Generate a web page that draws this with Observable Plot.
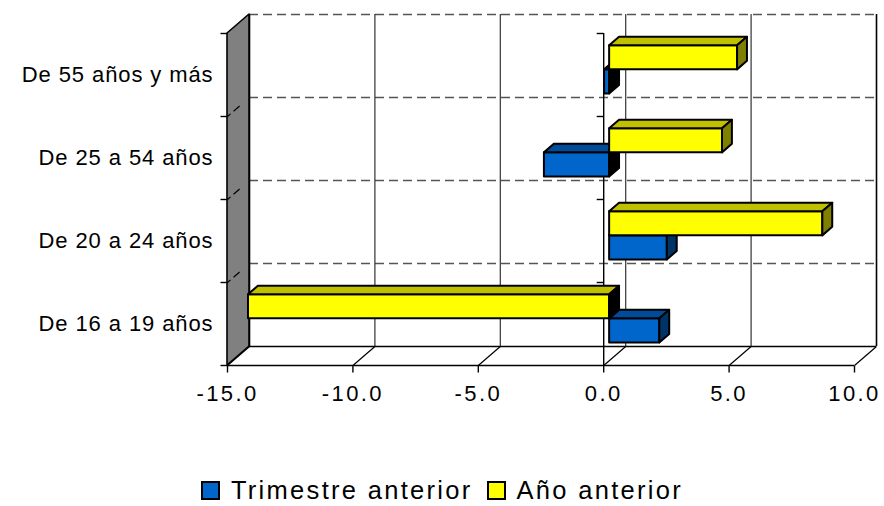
<!DOCTYPE html>
<html><head><meta charset="utf-8">
<script src="https://cdn.jsdelivr.net/npm/d3@7"></script>
<script src="https://cdn.jsdelivr.net/npm/@observablehq/plot@0.6"></script>
<style>
body{margin:0;background:#fff;font-family:"Liberation Sans",Arial,sans-serif;}
#chart{position:relative;width:884px;height:506px;overflow:hidden;}
.legend{position:absolute;left:0;top:475px;width:884px;display:flex;justify-content:center;align-items:center;font-size:25.5px;letter-spacing:2.3px;line-height:30px;color:#000;}
.sw{width:19px;height:19px;border:2.5px solid #000;box-sizing:border-box;margin-right:11px;}
.lab{margin-right:14px;}
.lab:last-child{margin-right:0;}
</style></head><body><div id="chart"></div>
<script>
// ---- data ----
const categories = ["De 16 a 19 años", "De 20 a 24 años", "De 25 a 54 años", "De 55 años y más"];
const trimestreAnterior = [2.0, 2.3, -2.6, -0.2];
const anoAnterior = [-14.4, 8.5, 4.5, 5.1];
const seriesNames = ["Trimestre anterior", "Año anterior"];
const xTicks = [-15, -10, -5, 0, 5, 10];

// ---- styles ----
const FRONT = ["#0066CC", "#FFFF00"];
const TOP = ["#004C99", "#C0C000"];
const SIDE = ["#003366", "#808000"];

// ---- geometry (pixels -> data units for the oblique depth) ----
const W = 884, H = 460, mL = 227, mR = 8, mT = 14, mB = 95;
const KX = (W - mL - mR - 22) / 25;      // px per x unit
const KY = (H - mT - mB - 19) / 4;       // px per category
const Dx = 22 / KX, Dy = 19 / KY;        // full depth
const Z0 = 0.27, Z1 = 0.72, BH = 0.29;   // bar depth span and thickness

const series = [trimestreAnterior, anoAnterior];
const bars = [];
categories.forEach((c, i) => {
  series.forEach((vals, s) => {
    const v = vals[i];
    const lo = Math.min(0, v), hi = Math.max(0, v);
    const yb = s === 0 ? i + 0.5 - BH : i + 0.5;
    bars.push({id: c + s, cat: c, s, v, lo, hi, yb, yt: yb + BH});
  });
});

function barMarks(s) {
  const B = bars.filter(d => d.s === s);
  const topPts = B.flatMap(d => [
    {id: d.id, y: d.yt + Z0 * Dy, x1: d.lo + Z0 * Dx, x2: d.hi + Z0 * Dx},
    {id: d.id, y: d.yt + Z1 * Dy, x1: d.lo + Z1 * Dx, x2: d.hi + Z1 * Dx}
  ]);
  const sidePts = B.flatMap(d => [
    {id: d.id, neg: d.v < 0, x: d.hi + Z0 * Dx, y1: d.yb + Z0 * Dy, y2: d.yt + Z0 * Dy},
    {id: d.id, neg: d.v < 0, x: d.hi + Z1 * Dx, y1: d.yb + Z1 * Dy, y2: d.yt + Z1 * Dy}
  ]);
  return [
    Plot.rect(B, {x1: d => d.lo + Z0 * Dx, x2: d => d.hi + Z0 * Dx, y1: d => d.yb + Z0 * Dy, y2: d => d.yt + Z0 * Dy,
      fill: FRONT[s], stroke: "#000", strokeWidth: 2, strokeLinejoin: "round"}),
    Plot.areaX(topPts, {y: "y", x1: "x1", x2: "x2", z: "id", fill: TOP[s], stroke: "#000", strokeWidth: 2, strokeLinejoin: "round"}),
    Plot.areaY(sidePts, {x: "x", y1: "y1", y2: "y2", z: "id", fill: d => d.neg ? "#000000" : SIDE[s], stroke: "#000", strokeWidth: 2, strokeLinejoin: "round"})
  ];
}

const one = [0];
const chart = Plot.plot({
  width: W, height: H,
  marginLeft: mL, marginRight: mR, marginTop: mT, marginBottom: mB,
  x: {domain: [-15, 10 + Dx], axis: null},
  y: {domain: [0, 4 + Dy], axis: null},
  color: {type: "identity"},
  style: {fontFamily: "'Liberation Sans', Arial, sans-serif", background: "white", overflow: "visible"},
  marks: [
    // back wall
    Plot.rect(one, {x1: () => -15 + Dx, x2: () => 10 + Dx, y1: () => Dy, y2: () => 4 + Dy, fill: "white"}),
    Plot.ruleY([1, 2, 3, 4], {y: d => d + Dy, x1: () => -15 + Dx, x2: () => 10 + Dx, stroke: "#555", strokeWidth: 1.6, strokeDasharray: "9,5"}),
    Plot.ruleX(xTicks.slice(1, -1), {x: d => d + Dx, y1: () => Dy, y2: () => 4 + Dy, stroke: "#333", strokeWidth: 1.2}),
    Plot.ruleX([-15, 10], {x: d => d + Dx, y1: () => Dy, y2: () => 4 + Dy, stroke: "#000", strokeWidth: 1.6}),
    // floor
    Plot.ruleY(one, {y: () => Dy, x1: () => -15 + Dx, x2: () => 10 + Dx, stroke: "#000", strokeWidth: 1.4}),
    Plot.link(xTicks, {x1: d => d, y1: () => 0, x2: d => d + Dx, y2: () => Dy, stroke: "#000", strokeWidth: 1.2}),
    Plot.ruleY(one, {y: () => 0, x1: () => -15, x2: () => 10, stroke: "#000", strokeWidth: 1.6}),
    Plot.link(xTicks, {x1: d => d, x2: d => d, y1: () => 0, y2: () => -7 / KY, stroke: "#000", strokeWidth: 1.4}),
    // left wall
    Plot.areaY([{x: -15, y1: 0, y2: 4}, {x: -15 + Dx, y1: Dy, y2: 4 + Dy}], {x: "x", y1: "y1", y2: "y2", fill: "#808080", stroke: "#000", strokeWidth: 1.6}),
    Plot.link([1, 2, 3], {x1: () => -15, y1: d => d, x2: () => -15 + Dx, y2: d => d + Dy, stroke: "#000", strokeWidth: 1.2, strokeDasharray: "4,4,8,20"}),
    Plot.link([0, 1, 2, 3, 4], {x1: () => -15 - 7 / KX, x2: () => -15, y1: d => d, y2: d => d, stroke: "#000", strokeWidth: 1.4}),
    // category axis at zero
    Plot.ruleX(one, {x: () => 0, y1: () => 0, y2: () => 4, stroke: "#000", strokeWidth: 1.4}),
    Plot.link([1, 2, 3, 4], {x1: () => -7 / KX, x2: () => 0, y1: d => d, y2: d => d, stroke: "#000", strokeWidth: 1.4}),
    // bars
    ...barMarks(0),
    ...barMarks(1),
    // labels
    Plot.text(xTicks, {x: d => d, y: () => 0, dy: 28, text: d => d.toFixed(1), fontSize: 22, fill: "#000"}),
    Plot.text(categories, {x: () => -15, y: (d, i) => i + 0.5, dx: -14, textAnchor: "end", text: d => d, fontSize: 22, fill: "#000"})
  ]
});
const textGroups = chart.querySelectorAll('g[aria-label="text"]');
if (textGroups[0]) textGroups[0].setAttribute("letter-spacing", "2.4");
if (textGroups[1]) textGroups[1].setAttribute("letter-spacing", "0.9");
const root = document.getElementById("chart");
root.appendChild(chart);
const legend = document.createElement("div");
legend.className = "legend";
seriesNames.forEach((n, s) => {
  const sw = document.createElement("span"); sw.className = "sw"; sw.style.background = FRONT[s];
  const lab = document.createElement("span"); lab.className = "lab"; lab.textContent = n;
  legend.appendChild(sw); legend.appendChild(lab);
});
root.appendChild(legend);
</script></body></html>
